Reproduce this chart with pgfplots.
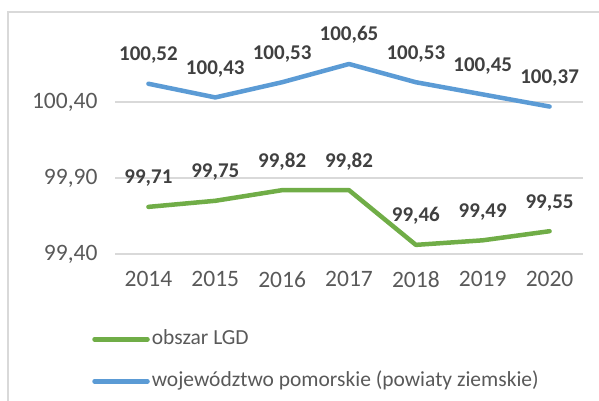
\documentclass[border=0pt]{standalone}
\usepackage{fontspec}
\setmainfont{Carlito}
\usepackage{pgfplots}
\pgfplotsset{compat=1.18}
\definecolor{cgreen}{HTML}{70AD47}
\definecolor{cblue}{HTML}{5B9BD5}
\definecolor{cgrid}{HTML}{D9D9D9}
\definecolor{ctick}{HTML}{595959}
\definecolor{clab}{HTML}{404040}
\begin{document}
\begin{tikzpicture}
\path[use as bounding box] (0pt,0pt) rectangle (599pt,401pt);
\draw[cgrid, line width=1.5pt] (8pt,0pt) |- (599pt,389pt);
\begin{axis}[
  at={(115pt,147pt)}, anchor=south west,
  scale only axis, width=468pt, height=197.6pt,
  xmin=-0.5, xmax=6.5, ymin=99.4, ymax=100.7,
  clip=false,
  axis line style={draw=none},
  tick style={draw=none},
  ymajorgrids, grid style={cgrid, line width=1.5pt},
  ytick={99.4,99.9,100.4},
  xtick={0,...,6},
  xticklabels={2014,2015,2016,2017,2018,2019,2020},
  ticklabel style={font=\fontsize{23.5}{27}\selectfont, text=ctick},
  /pgf/number format/assume math mode=true,
  yticklabel style={/pgf/number format/fixed, /pgf/number format/fixed zerofill, /pgf/number format/precision=2, /pgf/number format/use comma, xshift=-14pt},
  xticklabel style={yshift=-14pt},
  nodes near coords={\pgfmathprintnumber[fixed, fixed zerofill, precision=2, use comma, assume math mode=true]{\pgfplotspointmeta}},
  every node near coord/.append style={anchor=base, yshift=23pt, font=\fontsize{21}{24}\bfseries, text=clab},
  legend cell align=left,
  legend style={at={(axis description cs:-0.049,-0.37)}, anchor=north west, draw=none, fill=none,
    font=\fontsize{21.5}{26}\selectfont, text=ctick, row sep=18pt, inner sep=0pt,
    nodes={text height=15pt, text depth=5pt}},
  legend image code/.code={\draw[line width=4.5pt, line cap=round] (0pt,0pt) -- (53pt,0pt);},
]
\addplot[cgreen, line width=4.5pt, line cap=round, line join=round] coordinates {
  (0,99.71) (1,99.75) (2,99.82) (3,99.82) (4,99.46) (5,99.49) (6,99.55)};
\addlegendentry{obszar LGD}
\addplot[cblue, line width=4.5pt, line cap=round, line join=round] coordinates {
  (0,100.52) (1,100.43) (2,100.53) (3,100.65) (4,100.53) (5,100.45) (6,100.37)};
\addlegendentry{województwo pomorskie (powiaty ziemskie)}
\end{axis}
\end{tikzpicture}
\end{document}
